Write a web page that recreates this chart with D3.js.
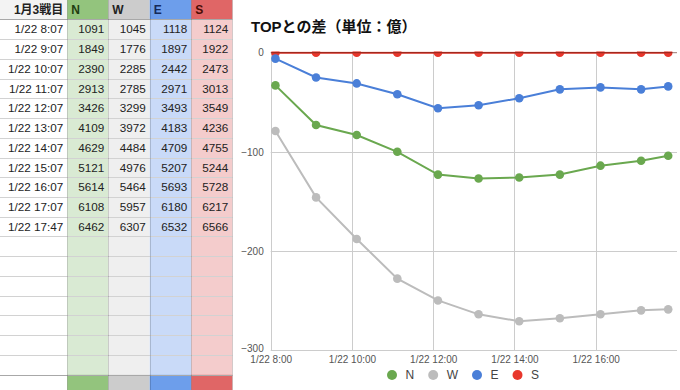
<!DOCTYPE html>
<html>
<head>
<meta charset="utf-8">
<script src="https://cdn.jsdelivr.net/npm/d3@7"></script>
<style>
  body { margin: 0; background: #fff; }
  text { font-family: "Liberation Sans", Arial, "Noto Sans CJK JP", sans-serif; }
</style>
</head>
<body>
<script>
"use strict";

// table data
const tableTitle = "1月3戦目";
const teams = ["N", "W", "E", "S"];
const times = ["1/22 8:07", "1/22 9:07", "1/22 10:07", "1/22 11:07", "1/22 12:07", "1/22 13:07",
               "1/22 14:07", "1/22 15:07", "1/22 16:07", "1/22 17:07", "1/22 17:47"];
const nVals = [1091, 1849, 2390, 2913, 3426, 4109, 4629, 5121, 5614, 6108, 6462];
const wVals = [1045, 1776, 2285, 2785, 3299, 3972, 4484, 4976, 5464, 5957, 6307];
const eVals = [1118, 1897, 2442, 2971, 3493, 4183, 4709, 5207, 5693, 6180, 6532];
const sVals = [1124, 1922, 2473, 3013, 3549, 4236, 4755, 5244, 5728, 6217, 6566];

// chart data
const chartTitle = "TOPとの差（単位：億）";
const yTicks = [0, -100, -200, -300];
const xTickHours = [8, 10, 12, 14, 16];

const seriesColor = { N: "#6aa84f", W: "#bcbcbc", E: "#4a7fd8", S: "#e8372c" };
const headColor = { L: "#f3f3f3", N: "#93c47d", W: "#cccccc", E: "#6d9eeb", S: "#e06666" };
const bodyColor = { L: "#ffffff", N: "#d9ead3", W: "#efefef", E: "#c9daf8", S: "#f4cccc" };
const headText = { N: "#1f3d10", W: "#222", E: "#152a5a", S: "#4a0c04" };

const W = 680, H = 390;
const svg = d3.select("body").append("svg")
    .attr("width", W).attr("height", H);

/* ---------- table ---------- */
const valsByTeam = { N: nVals, W: wVals, E: eVals, S: sVals };
const colKeys = ["L"].concat(teams);
const colEdges = [0, 67.3, 108.3, 149.7, 191.3, 232.3];
const bodyRows = 18;
const rowY = d3.scaleLinear().domain([0, bodyRows]).range([19.3, 374.7]);
const rowH = rowY(1) - rowY(0);

const table = svg.append("g").attr("class", "table");

// column backgrounds: header, body, footer
colKeys.forEach(function(k, i){
    const x0 = colEdges[i], x1 = colEdges[i + 1];
    table.append("rect").attr("x", x0).attr("y", 0).attr("width", x1 - x0).attr("height", rowY(0))
        .attr("fill", headColor[k]);
    table.append("rect").attr("x", x0).attr("y", rowY(0)).attr("width", x1 - x0)
        .attr("height", rowY(bodyRows) - rowY(0)).attr("fill", bodyColor[k]);
    table.append("rect").attr("x", x0).attr("y", rowY(bodyRows)).attr("width", x1 - x0)
        .attr("height", H - rowY(bodyRows)).attr("fill", k === "L" ? "#fff" : headColor[k]);
});

// row lines
table.selectAll("line.row")
    .data(d3.range(0, bodyRows + 1))
    .enter().append("line")
    .attr("class", "row")
    .attr("x1", 0).attr("x2", colEdges[colEdges.length - 1])
    .attr("y1", d => Math.round(rowY(d)) + 0.5).attr("y2", d => Math.round(rowY(d)) + 0.5)
    .attr("stroke", d => (d === 0 || d === bodyRows) ? "#a8a8a8" : "#d2d2d2")
    .attr("stroke-width", 1);

// column lines
table.selectAll("line.col")
    .data(colEdges.slice(1))
    .enter().append("line")
    .attr("class", "col")
    .attr("x1", d => Math.round(d) + 0.5).attr("x2", d => Math.round(d) + 0.5)
    .attr("y1", 0).attr("y2", H)
    .attr("stroke", "#000").attr("stroke-opacity", 0.16);

// header texts
table.append("text")
    .attr("x", colEdges[1] - 4).attr("y", rowY(0) / 2 + 4.3)
    .attr("text-anchor", "end").attr("font-size", 12).attr("font-weight", "bold")
    .attr("fill", "#222").text(tableTitle);
teams.forEach(function(t, i){
    table.append("text")
        .attr("x", colEdges[i + 1] + 4).attr("y", rowY(0) / 2 + 4.3)
        .attr("font-size", 12).attr("font-weight", "bold")
        .attr("fill", headText[t]).text(t);
});

// body texts
times.forEach(function(tm, r){
    const cy = rowY(r) + rowH / 2 + 4.2;
    table.append("text").attr("x", colEdges[1] - 4).attr("y", cy)
        .attr("text-anchor", "end").attr("font-size", 11.7).attr("fill", "#222").text(tm);
    teams.forEach(function(t, i){
        table.append("text").attr("x", colEdges[i + 2] - 4).attr("y", cy)
            .attr("text-anchor", "end").attr("font-size", 11.7).attr("fill", "#222")
            .text(valsByTeam[t][r]);
    });
});

/* ---------- chart ---------- */
const parseTime = d3.timeParse("%m/%d %H:%M");
const dates = times.map(parseTime);
const tops = times.map((d, i) => d3.max(teams, t => valsByTeam[t][i]));
const series = teams.map(t => ({
    key: t,
    values: valsByTeam[t].map((v, i) => ({ date: dates[i], diff: v - tops[i] }))
}));

const day = dates[0];
const hourDate = h => new Date(day.getFullYear(), day.getMonth(), day.getDate(), h, 0);

const x = d3.scaleTime()
    .domain([hourDate(8), hourDate(18)])
    .range([270.7, 677]);
const y = d3.scaleLinear()
    .domain([-300, 0])
    .range([350, 52.7]);

const chart = svg.append("g").attr("class", "chart");

chart.append("text")
    .attr("x", 251).attr("y", 32)
    .attr("font-size", 15).attr("font-weight", "bold").attr("fill", "#111")
    .text(chartTitle);

// gridlines
chart.selectAll("line.hgrid")
    .data(yTicks.filter(d => d !== 0))
    .enter().append("line")
    .attr("x1", x.range()[0]).attr("x2", x.range()[1])
    .attr("y1", d => Math.round(y(d)) + 0.5).attr("y2", d => Math.round(y(d)) + 0.5)
    .attr("stroke", "#cccccc");
chart.selectAll("line.vgrid")
    .data(xTickHours.map(hourDate))
    .enter().append("line")
    .attr("x1", d => Math.round(x(d)) + 0.5).attr("x2", d => Math.round(x(d)) + 0.5)
    .attr("y1", y(0)).attr("y2", y(-300))
    .attr("stroke", "#cccccc");

// axis labels
const yAxis = d3.axisLeft(y).tickValues(yTicks).tickSize(0).tickPadding(7);
chart.append("g")
    .attr("transform", "translate(" + x.range()[0] + ",0)")
    .call(yAxis)
    .call(g => g.select(".domain").remove())
    .call(g => g.selectAll("text")
        .attr("font-size", 10).attr("fill", "#555")
        .attr("font-family", "\"Liberation Sans\", Arial, sans-serif"))
    .call(g => g.selectAll(".tick").filter(d => d === -300).select("text").attr("dy", "0.1em"));

const xAxis = d3.axisBottom(x)
    .tickValues(xTickHours.map(hourDate))
    .tickFormat(d3.timeFormat("%-m/%-d %-H:%M"))
    .tickSize(0).tickPadding(6);
chart.append("g")
    .attr("transform", "translate(0," + y(-300) + ")")
    .call(xAxis)
    .call(g => g.select(".domain").remove())
    .call(g => g.selectAll("text")
        .attr("font-size", 10).attr("fill", "#555")
        .attr("font-family", "\"Liberation Sans\", Arial, sans-serif"));

// plot clip
svg.append("defs").append("clipPath").attr("id", "plot")
    .append("rect")
    .attr("x", x.range()[0] - 8).attr("y", y(0) - 1.2)
    .attr("width", x.range()[1] - x.range()[0] + 16)
    .attr("height", y(-300) - y(0) + 10);

const line = d3.line()
    .x(d => x(d.date))
    .y(d => y(d.diff));

const plot = chart.append("g").attr("clip-path", "url(#plot)");

const sg = plot.selectAll("g.series")
    .data(series.slice().reverse())
    .enter().append("g").attr("class", "series");

sg.append("path")
    .attr("d", d => line(d.values))
    .attr("fill", "none")
    .attr("stroke", d => seriesColor[d.key])
    .attr("stroke-width", 2);

sg.selectAll("circle")
    .data(d => d.values.map(v => ({ key: d.key, date: v.date, diff: v.diff })))
    .enter().append("circle")
    .attr("cx", d => x(d.date))
    .attr("cy", d => y(d.diff))
    .attr("r", 4.3)
    .attr("fill", d => seriesColor[d.key]);

// zero baseline
plot.append("line")
    .attr("x1", x.range()[0]).attr("x2", x.range()[1])
    .attr("y1", y(0)).attr("y2", y(0))
    .attr("stroke", "#5a1a12").attr("stroke-opacity", 0.6).attr("stroke-width", 1);

// legend
const legend = chart.append("g").attr("transform", "translate(0,375)");
let lx = 387;
teams.forEach(function(t){
    legend.append("circle").attr("cx", lx + 5).attr("cy", 0).attr("r", 5)
        .attr("fill", seriesColor[t]);
    const tx = legend.append("text").attr("x", lx + 18.5).attr("y", 4.3)
        .attr("font-size", 12).attr("fill", "#444").text(t);
    lx = lx + 18.5 + tx.node().getComputedTextLength() + 14;
});
</script>
</body>
</html>
